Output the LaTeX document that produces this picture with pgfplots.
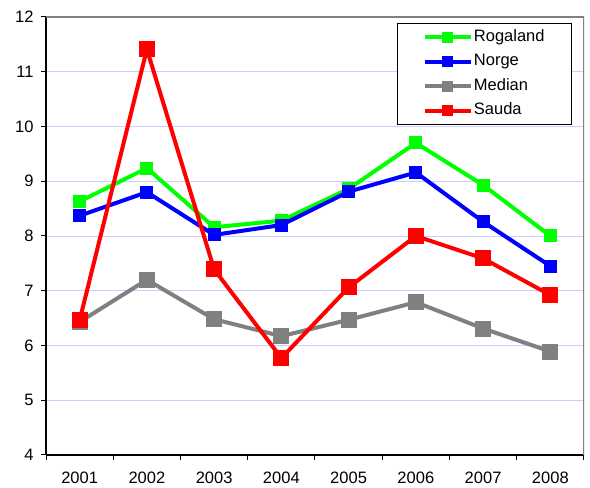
\documentclass[border=0pt]{standalone}
\usepackage{pgfplots}
\pgfplotsset{compat=1.18}
\usetikzlibrary{calc}
\usepackage{fontspec}
\setmainfont{Liberation Sans}

\definecolor{cRog}{RGB}{0,255,0}
\definecolor{cNor}{RGB}{0,0,255}
\definecolor{cMed}{RGB}{128,128,128}
\definecolor{cSau}{RGB}{255,0,0}
\definecolor{gridc}{RGB}{204,204,255}

\begin{document}
\begin{tikzpicture}[font=\fontsize{16.5bp}{20bp}\selectfont]
\begin{axis}[
    scale only axis,
    width=538bp, height=438bp,
    xmin=2000.5, xmax=2008.5,
    ymin=4, ymax=12,
    xtick={2001,...,2008},
    minor xtick={2000.5,2001.5,...,2008.5},
    ytick={4,5,...,12},
    /pgf/number format/1000 sep={},
    /pgf/number format/assume math mode=true,
    axis x line*=bottom,
    axis y line*=left,
    axis line style={black, line width=1.2bp},
    tick align=outside,
    major tick length=5bp,
    minor tick length=5bp,
    x tick style={draw=none},
    minor x tick style={draw=black, line width=1bp},
    y tick style={black, line width=1bp},
    ymajorgrids,
    major grid style={gridc, line width=0.8bp},
    xticklabel style={yshift=-8bp},
    yticklabel style={xshift=-4bp},
    legend cell align=left,
    legend style={at={(1,1)}, xshift=-12bp, yshift=-6bp, anchor=north east,
        draw=black, line width=0.8bp, inner xsep=26bp, inner ysep=5bp,
        row sep=6.5bp,
        nodes={inner sep=1bp, text height=12bp, text depth=4bp},
        /tikz/every even column/.style={column sep=0pt}},
    legend image code/.code={
        \draw[mark repeat=2, mark phase=2, mark size=3.5bp] plot coordinates {(0bp,0bp) (23bp,0bp) (46bp,0bp)};},
]
\addplot[cRog, line width=4bp, mark=square*, mark size=4.5bp, mark options={solid}] coordinates {
  (2001,8.63) (2002,9.24) (2003,8.16) (2004,8.28)
  (2005,8.86) (2006,9.70) (2007,8.93) (2008,8.00)
};
\addlegendentry{Rogaland}
\addplot[cNor, line width=4bp, mark=square*, mark size=4.5bp] coordinates {
  (2001,8.37) (2002,8.80) (2003,8.02) (2004,8.20)
  (2005,8.81) (2006,9.16) (2007,8.26) (2008,7.45)
};
\addlegendentry{Norge}
\addplot[cMed, line width=4bp, mark=square*, mark size=6bp] coordinates {
  (2001,6.43) (2002,7.20) (2003,6.48) (2004,6.17)
  (2005,6.47) (2006,6.79) (2007,6.31) (2008,5.89)
};
\addlegendentry{Median}
\addplot[cSau, line width=4bp, mark=square*, mark size=6bp] coordinates {
  (2001,6.46) (2002,11.41) (2003,7.39) (2004,5.77)
  (2005,7.06) (2006,8.00) (2007,7.59) (2008,6.92)
};
\addlegendentry{Sauda}
\draw[cMed, line width=1.2bp] (rel axis cs:0,1) -- (rel axis cs:1,1) -- (rel axis cs:1,0);
\end{axis}
\pgfresetboundingbox
\path ($(current axis.south west)+(-46bp,-33bp)$) rectangle ($(current axis.north east)+(6bp,17bp)$);
\end{tikzpicture}
\end{document}
